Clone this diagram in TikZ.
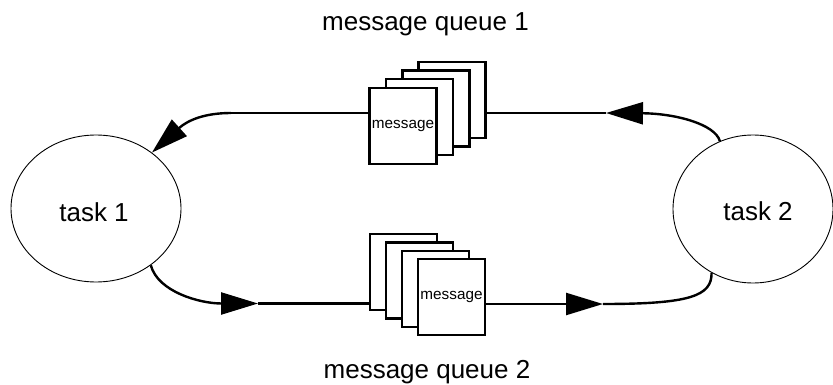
\documentclass[tikz,border=0pt]{standalone}
\usepackage{fontspec}
\setmainfont{Liberation Sans}
\usetikzlibrary{arrows.meta,shapes.geometric}
\begin{document}
\begin{tikzpicture}[x=1pt,y=-1pt,
  task/.style={draw,ellipse,line width=0.9pt,inner sep=0pt},
  msg/.style={draw,fill=white,line width=2.3pt,minimum width=67pt,minimum height=76pt,inner sep=0pt,font=\fontsize{15.3}{15.3}\selectfont},
  conn/.style={line width=2.4pt},
  arr/.style={conn,-{Triangle[length=37pt,width=22pt]}},
  lbl/.style={font=\fontsize{26}{26}\selectfont,anchor=base,inner sep=0pt}]
\useasboundingbox (0,0) rectangle (833,385);
% tasks
\node[task,minimum width=170pt,minimum height=147pt] (t1) at (96,208.5) {};
\node[lbl] (t1l) at (94,221) {task 1};
\node[task,minimum width=160pt,minimum height=148pt] (t2) at (753,209) {};
\node[lbl] (t2l) at (758,220) {task 2};
% queue 1
\node[msg] (q1d) at (452,100) {};
\node[msg] (q1c) at (436,108.5) {};
\node[msg] (q1b) at (419.5,117) {};
\node[msg] (q1a) at (403,126) {message};
% queue 2
\node[msg] (q2a) at (403.5,272) {};
\node[msg] (q2b) at (419.5,280.5) {};
\node[msg] (q2c) at (435.5,289) {};
\node[msg] (q2d) at (451.5,297) {message};
% labels
\node[lbl] (l1) at (425.5,31) {message queue 1};
\node[lbl] (l2) at (427,378) {message queue 2};
% connectors
\coordinate (c1) at (231,113);
\coordinate (c2) at (606,113);
\coordinate (c3) at (258,303.5);
\coordinate (c4) at (603,304);
\draw[conn] (q1a.west |- c1) -- (c1);
\draw[arr] (c1) .. controls (205,113) and (188,120) .. (t1.45);
\draw[conn] (q1d.east |- c2) -- (c2);
\draw[arr] (t2.116) .. controls (715,124) and (675,113.5) .. (c2);
\draw[arr] (t1.-46) .. controls (158,292) and (200,303.5) .. (c3);
\draw[conn] (c3) -- (q2a.west |- c3);
\draw[arr] (q2d.east |- c4) -- (c4);
\draw[conn] (c4) .. controls (690,304) and (712,296) .. (t2.-123);
\end{tikzpicture}
\end{document}
